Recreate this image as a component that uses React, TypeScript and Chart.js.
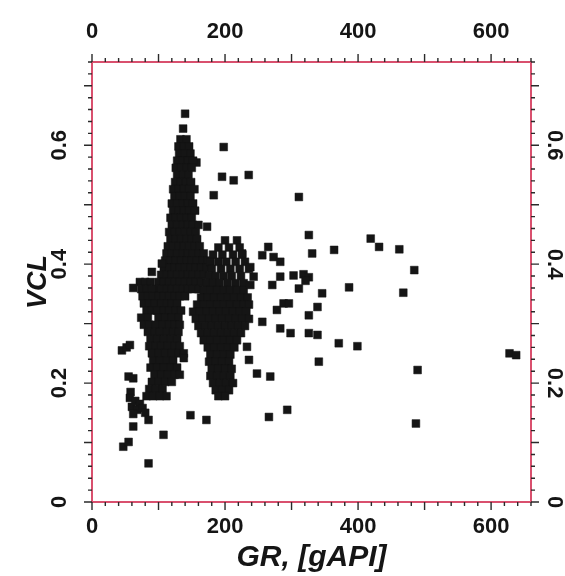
import { useEffect, useRef } from 'react';
import { Chart, registerables } from 'chart.js';

Chart.register(...registerables);

// ---- axes ----
const X_MIN = 0;
const X_MAX = 660;
const Y_MIN = 0;
const Y_MAX = 0.74;
const X_LABEL_STEP = 200;
const Y_LABEL_STEP = 0.2;
const X_MINOR_STEP = 20;
const Y_MINOR_STEP = 0.02;
const X_TITLE = 'GR, [gAPI]';
const Y_TITLE = 'VCL';

// ---- data: [GR, VCL] ----
const spikePoints: [number, number][] = [
  [140, 0.653], [137, 0.628],
  [133, 0.61], [142, 0.61],
  [130, 0.598], [138, 0.598], [146, 0.598],
  [131, 0.586], [140, 0.586], [148, 0.586], [157, 0.571],
  [128, 0.574], [136, 0.574], [144, 0.574], [152, 0.574],
  [126, 0.562], [134, 0.562], [142, 0.562], [150, 0.562],
  [128, 0.55], [137, 0.55], [145, 0.55],
  [125, 0.538], [133, 0.538], [141, 0.538], [149, 0.538],
  [122, 0.526], [130, 0.526], [138, 0.526], [146, 0.526], [154, 0.526],
  [124, 0.514], [132, 0.514], [140, 0.514], [148, 0.514],
  [120, 0.502], [128, 0.502], [136, 0.502], [144, 0.502], [152, 0.502],
  [122, 0.49], [130, 0.49], [138, 0.49], [146, 0.49], [155, 0.49],
  [118, 0.478], [126, 0.478], [134, 0.478], [142, 0.478], [150, 0.478],
  [120, 0.466], [128, 0.466], [136, 0.466], [144, 0.466], [152, 0.466], [160, 0.466],
  [116, 0.454], [124, 0.454], [132, 0.454], [140, 0.454], [148, 0.454], [156, 0.454],
  [118, 0.442], [126, 0.442], [134, 0.442], [142, 0.442], [150, 0.442], [158, 0.442],
  [114, 0.43], [122, 0.43], [130, 0.43], [138, 0.43], [146, 0.43], [154, 0.43], [162, 0.43],
  [112, 0.418], [120, 0.418], [128, 0.418], [136, 0.418], [144, 0.418], [152, 0.418], [160, 0.418], [168, 0.418],
  [110, 0.406], [118, 0.406], [126, 0.406], [134, 0.406], [142, 0.406], [150, 0.406], [158, 0.406], [166, 0.406], [174, 0.406],
  [108, 0.394], [116, 0.394], [124, 0.394], [132, 0.394], [140, 0.394], [148, 0.394], [156, 0.394], [164, 0.394], [172, 0.394],
  [104, 0.382], [112, 0.382], [120, 0.382], [128, 0.382], [136, 0.382], [144, 0.382], [152, 0.382], [160, 0.382], [168, 0.382],
  [100, 0.37], [108, 0.37], [116, 0.37], [124, 0.37], [132, 0.37], [140, 0.37], [148, 0.37], [156, 0.37], [164, 0.37],
  [96, 0.358], [104, 0.358], [112, 0.358], [120, 0.358], [128, 0.358], [136, 0.358], [144, 0.358], [152, 0.358], [160, 0.358],
];

const bandPoints: [number, number][] = [
  [72, 0.37], [80, 0.37], [88, 0.37],
  [74, 0.358], [82, 0.358], [90, 0.358],
  [76, 0.346], [84, 0.346], [92, 0.346], [100, 0.346], [108, 0.346], [116, 0.346], [124, 0.346], [132, 0.346], [140, 0.346],
  [78, 0.334], [86, 0.334], [94, 0.334], [104, 0.334], [112, 0.334], [120, 0.334], [128, 0.334],
  [82, 0.322], [90, 0.322], [98, 0.322], [108, 0.322], [116, 0.322], [126, 0.322], [134, 0.322],
  [74, 0.31], [84, 0.31], [100, 0.31], [110, 0.31], [120, 0.31], [130, 0.31],
  [78, 0.298], [86, 0.298], [96, 0.298], [106, 0.298], [116, 0.298], [124, 0.298], [132, 0.298],
  [84, 0.286], [94, 0.286], [102, 0.286], [112, 0.286], [122, 0.286], [130, 0.286],
  [88, 0.274], [98, 0.274], [108, 0.274], [118, 0.274], [128, 0.274],
  [86, 0.262], [96, 0.262], [104, 0.262], [114, 0.262], [124, 0.262], [132, 0.262],
  [90, 0.25], [100, 0.25], [110, 0.25], [120, 0.25], [130, 0.25], [138, 0.25],
  [92, 0.238], [102, 0.238], [112, 0.238], [122, 0.238], [138, 0.242],
  [88, 0.226], [98, 0.226], [108, 0.226], [118, 0.226], [128, 0.226],
  [94, 0.214], [104, 0.214], [114, 0.214], [124, 0.214], [132, 0.214],
  [90, 0.202], [100, 0.202], [110, 0.202], [120, 0.202],
  [86, 0.19], [96, 0.19], [106, 0.19],
  [82, 0.178], [92, 0.178], [102, 0.178], [112, 0.178],
  [58, 0.185], [57, 0.175], [65, 0.17], [72, 0.165], [60, 0.16], [68, 0.155], [76, 0.158], [62, 0.148], [80, 0.15],
  [45, 0.255], [52, 0.26], [57, 0.264], [55, 0.211], [62, 0.208],
  [62, 0.127], [85, 0.138], [107.5, 0.113], [47, 0.093], [55, 0.101], [85, 0.065],
  [62, 0.36], [90, 0.387], [105, 0.401], [148, 0.146], [172, 0.138],
];

const blobPoints: [number, number][] = [
  [200, 0.44], [218, 0.44],
  [190, 0.428], [206, 0.428], [222, 0.428],
  [182, 0.416], [196, 0.416], [212, 0.416], [226, 0.416],
  [178, 0.404], [190, 0.404], [202, 0.404], [216, 0.404], [230, 0.404],
  [180, 0.392], [194, 0.392], [208, 0.392], [222, 0.392], [236, 0.392],
  [176, 0.38], [186, 0.38], [198, 0.38], [210, 0.38], [224, 0.38],
  [172, 0.368], [182, 0.368], [192, 0.368], [204, 0.368], [216, 0.368], [228, 0.368],
  [168, 0.356], [178, 0.356], [188, 0.356], [198, 0.356], [208, 0.356], [218, 0.356], [228, 0.356],
  [164, 0.344], [174, 0.344], [184, 0.344], [194, 0.344], [204, 0.344], [214, 0.344], [224, 0.344], [234, 0.344],
  [158, 0.332], [168, 0.332], [178, 0.332], [188, 0.332], [198, 0.332], [208, 0.332], [218, 0.332], [228, 0.332], [236, 0.332],
  [152, 0.32], [162, 0.32], [172, 0.32], [182, 0.32], [192, 0.32], [202, 0.32], [212, 0.32], [222, 0.32], [232, 0.32],
  [156, 0.308], [166, 0.308], [176, 0.308], [186, 0.308], [196, 0.308], [206, 0.308], [216, 0.308], [226, 0.308], [236, 0.308],
  [160, 0.296], [170, 0.296], [180, 0.296], [190, 0.296], [200, 0.296], [210, 0.296], [220, 0.296], [230, 0.296],
  [164, 0.284], [174, 0.284], [184, 0.284], [194, 0.284], [204, 0.284], [214, 0.284], [224, 0.284],
  [168, 0.272], [178, 0.272], [188, 0.272], [198, 0.272], [208, 0.272], [218, 0.272],
  [174, 0.26], [184, 0.26], [194, 0.26], [204, 0.26], [214, 0.26],
  [178, 0.248], [188, 0.248], [198, 0.248], [208, 0.248],
  [176, 0.236], [186, 0.236], [196, 0.236], [206, 0.236],
  [180, 0.224], [190, 0.224], [200, 0.224], [210, 0.224],
  [178, 0.212], [188, 0.212], [198, 0.212], [208, 0.212],
  [182, 0.2], [192, 0.2], [202, 0.2], [212, 0.2],
  [186, 0.188], [196, 0.188], [206, 0.188],
  [190, 0.178], [200, 0.178],
];

const scatterPoints: [number, number][] = [
  [173, 0.463], [183, 0.516], [195.5, 0.547], [213, 0.541], [235.6, 0.55], [198, 0.597],
  [225.7, 0.418], [238, 0.395], [243, 0.379], [238, 0.365], [256, 0.303], [248, 0.216],
  [268, 0.211], [266, 0.143], [293.5, 0.155], [233, 0.261], [236, 0.239],
  [265, 0.429], [273, 0.412], [283, 0.404], [256, 0.415], [283, 0.379], [303, 0.381],
  [318, 0.383], [326, 0.378], [321, 0.372], [271, 0.365], [288, 0.334], [278, 0.323],
  [296, 0.334], [311, 0.359], [346, 0.351], [339, 0.328], [326, 0.314], [283, 0.292],
  [298.5, 0.284], [326, 0.284], [339, 0.281], [341, 0.236], [326, 0.449], [331, 0.418],
  [311, 0.513], [364, 0.424], [419, 0.443], [431.6, 0.429], [462, 0.425], [484.5, 0.39],
  [386.5, 0.361], [468, 0.352], [371, 0.267], [399, 0.262], [489.5, 0.222], [487, 0.132],
  [627.7, 0.25], [637.7, 0.247],
];

// ---- styles ----
const FONT = "'Liberation Sans', Arial, sans-serif";
const FRAME_COLOR = '#d9506e';
const INK = '#151515';
const MINOR_LEN = 4;
const MAJOR_LEN = 8;

const frameTicks = {
  id: 'frameTicks',
  afterDraw(chart: any) {
    const { ctx, chartArea: a, scales } = chart;
    ctx.save();
    ctx.strokeStyle = '#2a2a2a';
    ctx.lineWidth = 1.4;
    ctx.beginPath();
    const nx = Math.round((X_MAX - X_MIN) / X_MINOR_STEP);
    for (let i = 0; i <= nx; i++) {
      const p = scales.x.getPixelForValue(X_MIN + i * X_MINOR_STEP);
      const len = i % 5 === 0 ? MAJOR_LEN : MINOR_LEN;
      ctx.moveTo(p, a.bottom);
      ctx.lineTo(p, a.bottom + len);
      ctx.moveTo(p, a.top);
      ctx.lineTo(p, a.top - len);
    }
    const ny = Math.round((Y_MAX - Y_MIN) / Y_MINOR_STEP);
    for (let i = 0; i <= ny; i++) {
      const p = scales.y.getPixelForValue(Y_MIN + i * Y_MINOR_STEP);
      const len = i % 5 === 0 ? MAJOR_LEN : MINOR_LEN;
      ctx.moveTo(a.left, p);
      ctx.lineTo(a.left - len, p);
      ctx.moveTo(a.right, p);
      ctx.lineTo(a.right + len, p);
    }
    ctx.stroke();
    ctx.restore();
  },
};

const tickFont = { family: FONT, size: 22, weight: 'bold' as const };
const xTitleFont = { family: FONT, size: 30, weight: 'bold' as const, style: 'italic' as const };
const yTitleFont = { family: FONT, size: 27, weight: 'bold' as const, style: 'italic' as const };

export default function App() {
  const ref = useRef<HTMLCanvasElement>(null);

  useEffect(() => {
    const all = [...spikePoints, ...bandPoints, ...blobPoints, ...scatterPoints];
    const chart = new Chart(ref.current as HTMLCanvasElement, {
      type: 'scatter',
      data: {
        datasets: [
          {
            data: all.map(([x, y]) => ({ x, y })),
            pointStyle: 'rect',
            pointRadius: 5.5,
            pointHoverRadius: 5.5,
            backgroundColor: INK,
            borderColor: INK,
            borderWidth: 0.5,
            xAxisID: 'x',
            yAxisID: 'y',
          },
        ],
      },
      options: {
        responsive: false,
        animation: false,
        layout: { padding: 0 },
        plugins: { legend: { display: false }, tooltip: { enabled: false } },
        scales: {
          x: {
            type: 'linear',
            position: 'bottom',
            min: X_MIN,
            max: X_MAX,
            grid: { display: false, drawTicks: false },
            border: { display: true, color: FRAME_COLOR, width: 2 },
            ticks: { stepSize: X_LABEL_STEP, includeBounds: false, font: tickFont, color: INK, padding: 12, maxRotation: 0, autoSkip: false },
            title: { display: true, text: X_TITLE, font: xTitleFont, color: INK, padding: { top: 0, bottom: 0 } },
            afterFit: (s: any) => { s.height = 74; },
          },
          x2: {
            type: 'linear',
            position: 'top',
            min: X_MIN,
            max: X_MAX,
            grid: { display: false, drawTicks: false },
            border: { display: true, color: FRAME_COLOR, width: 2 },
            ticks: { stepSize: X_LABEL_STEP, includeBounds: false, font: tickFont, color: INK, padding: 17, maxRotation: 0, autoSkip: false },
            afterFit: (s: any) => { s.height = 62; },
          },
          y: {
            type: 'linear',
            position: 'left',
            min: Y_MIN,
            max: Y_MAX,
            grid: { display: false, drawTicks: false },
            border: { display: true, color: FRAME_COLOR, width: 2 },
            ticks: { stepSize: Y_LABEL_STEP, includeBounds: false, font: tickFont, color: INK, padding: 17, minRotation: 90, maxRotation: 90, crossAlign: 'center', autoSkip: false },
            title: { display: true, text: Y_TITLE, font: yTitleFont, color: INK, padding: { top: 22, bottom: 0 } },
            afterFit: (s: any) => { s.width = 92; },
          },
          y2: {
            type: 'linear',
            position: 'right',
            min: Y_MIN,
            max: Y_MAX,
            grid: { display: false, drawTicks: false },
            border: { display: true, color: FRAME_COLOR, width: 2 },
            ticks: { stepSize: Y_LABEL_STEP, includeBounds: false, font: tickFont, color: INK, padding: 8, minRotation: -90, maxRotation: -90, crossAlign: 'center', autoSkip: false },
            afterFit: (s: any) => { s.width = 34; },
          },
        },
      },
      plugins: [frameTicks],
    } as any);
    return () => chart.destroy();
  }, []);

  return (
    <div style={{ position: 'fixed', left: 0, top: 0, width: 565, height: 576, background: '#fff' }}>
      <canvas ref={ref} width={565} height={576} style={{ display: 'block' }} />
    </div>
  );
}
